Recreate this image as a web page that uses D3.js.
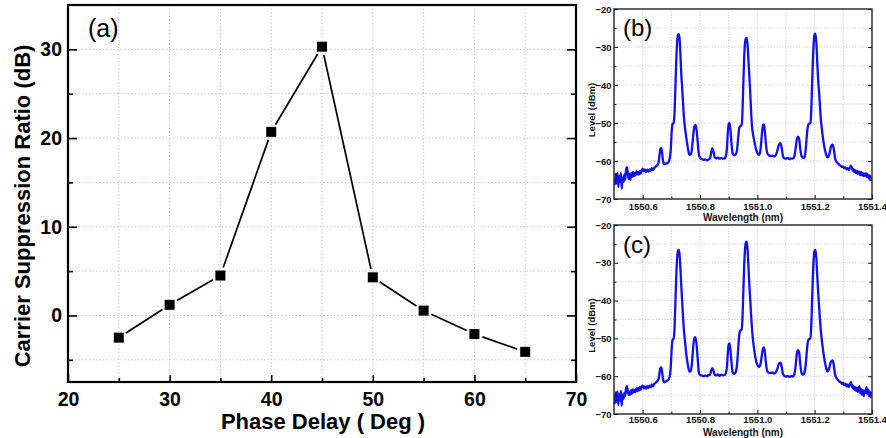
<!DOCTYPE html>
<html><head><meta charset="utf-8">
<script src="https://cdn.jsdelivr.net/npm/d3@7"></script>
<style>body{margin:0;background:#fff}svg{display:block}text{font-family:"Liberation Sans",Arial,sans-serif}</style>
</head><body><svg id="c" width="886" height="438"></svg>
<script>
// ---------- data ----------
const phaseDelay = [25, 30, 35, 40, 45, 50, 55, 60, 65];
const csr = [-2.5, 1.2, 4.5, 20.7, 30.3, 4.3, 0.55, -2.1, -4.1];
const xTicksA = [20, 30, 40, 50, 60, 70];
const yTicksA = [0, 10, 20, 30];
const wlTicks = [1550.6, 1550.8, 1551.0, 1551.2, 1551.4];
const levelTicks = [-20, -30, -40, -50, -60, -70];

const specB = [
[1550.500,-64.6],[1550.503,-66.2],[1550.506,-63.4],[1550.509,-65.9],[1550.512,-63.1],[1550.515,-66.8],[1550.518,-64.0],[1550.521,-65.4],[1550.524,-63.2],[1550.527,-67.3],[1550.530,-64.3],[1550.533,-65.6],[1550.536,-63.6],[1550.539,-64.9],[1550.542,-62.4],[1550.545,-61.6],[1550.548,-63.1],[1550.551,-64.7],[1550.554,-63.3],[1550.557,-65.0],[1550.560,-63.1],[1550.563,-64.2],[1550.566,-62.9],[1550.569,-64.0],[1550.572,-63.1],[1550.575,-63.8],[1550.578,-62.7],[1550.581,-63.5],[1550.584,-62.9],[1550.587,-63.6],[1550.590,-62.6],[1550.593,-63.3],[1550.596,-62.5],[1550.600,-62.0],[1550.604,-62.7],[1550.608,-62.3],[1550.612,-62.9],[1550.616,-62.3],[1550.620,-62.8],[1550.624,-62.2],[1550.628,-62.6],[1550.632,-61.9],[1550.636,-62.4],[1550.640,-61.9],[1550.644,-61.6],[1550.648,-61.3],[1550.652,-61.0],[1550.656,-60.2],[1550.659,-58.3],[1550.662,-56.8],[1550.665,-56.6],[1550.668,-58.0],[1550.671,-60.0],[1550.675,-60.8],[1550.680,-60.7],[1550.685,-60.6],[1550.690,-60.3],[1550.694,-59.5],[1550.698,-57.0],[1550.701,-52.5],[1550.704,-50.3],[1550.708,-50.0],[1550.711,-47.5],[1550.714,-41.0],[1550.717,-34.0],[1550.720,-29.0],[1550.723,-26.8],[1550.726,-26.6],[1550.729,-28.0],[1550.732,-32.5],[1550.735,-37.5],[1550.738,-41.0],[1550.741,-45.0],[1550.744,-48.5],[1550.748,-51.5],[1550.752,-53.8],[1550.756,-55.8],[1550.760,-57.6],[1550.764,-58.4],[1550.768,-58.2],[1550.772,-56.8],[1550.776,-53.5],[1550.780,-51.0],[1550.784,-50.5],[1550.788,-51.8],[1550.792,-55.0],[1550.796,-58.2],[1550.800,-59.2],[1550.806,-59.5],[1550.812,-59.7],[1550.818,-59.6],[1550.824,-59.8],[1550.830,-59.6],[1550.835,-59.3],[1550.839,-57.8],[1550.843,-56.6],[1550.847,-57.5],[1550.851,-59.0],[1550.856,-59.3],[1550.862,-59.1],[1550.868,-59.4],[1550.874,-59.2],[1550.880,-59.4],[1550.886,-59.3],[1550.890,-58.8],[1550.894,-56.5],[1550.897,-52.5],[1550.900,-50.3],[1550.903,-50.0],[1550.906,-51.5],[1550.910,-55.5],[1550.914,-58.0],[1550.919,-58.5],[1550.924,-58.3],[1550.929,-57.2],[1550.933,-54.0],[1550.937,-51.3],[1550.941,-50.8],[1550.945,-50.6],[1550.948,-47.5],[1550.951,-40.0],[1550.954,-33.0],[1550.957,-29.0],[1550.960,-27.7],[1550.963,-27.6],[1550.966,-29.5],[1550.969,-33.5],[1550.972,-37.5],[1550.975,-41.5],[1550.978,-46.5],[1550.981,-50.5],[1550.985,-53.0],[1550.990,-55.0],[1550.995,-56.8],[1551.000,-57.8],[1551.005,-58.4],[1551.009,-58.0],[1551.013,-55.5],[1551.017,-52.0],[1551.020,-50.5],[1551.023,-50.4],[1551.026,-52.0],[1551.030,-55.5],[1551.034,-57.8],[1551.040,-58.5],[1551.046,-58.7],[1551.052,-58.6],[1551.058,-58.8],[1551.064,-58.5],[1551.069,-57.5],[1551.074,-56.0],[1551.078,-55.4],[1551.081,-55.3],[1551.085,-56.5],[1551.089,-58.6],[1551.094,-59.3],[1551.100,-59.4],[1551.106,-59.2],[1551.112,-59.5],[1551.118,-59.3],[1551.124,-59.4],[1551.129,-58.8],[1551.134,-56.5],[1551.138,-54.2],[1551.142,-53.6],[1551.146,-54.3],[1551.150,-57.0],[1551.155,-58.8],[1551.160,-59.2],[1551.164,-59.0],[1551.168,-57.5],[1551.172,-54.0],[1551.176,-51.0],[1551.180,-50.2],[1551.185,-50.0],[1551.188,-47.0],[1551.191,-40.0],[1551.194,-33.0],[1551.197,-28.5],[1551.200,-26.6],[1551.203,-26.5],[1551.206,-29.0],[1551.209,-34.0],[1551.212,-38.5],[1551.215,-41.5],[1551.218,-45.0],[1551.221,-48.5],[1551.225,-51.5],[1551.230,-54.5],[1551.235,-56.8],[1551.240,-58.3],[1551.244,-59.0],[1551.248,-58.8],[1551.252,-58.0],[1551.256,-56.5],[1551.260,-55.7],[1551.263,-55.7],[1551.267,-57.0],[1551.271,-59.2],[1551.276,-60.2],[1551.281,-60.6],[1551.286,-61.0],[1551.291,-61.3],[1551.295,-61.6],[1551.299,-61.4],[1551.303,-61.9],[1551.307,-61.7],[1551.311,-62.2],[1551.315,-61.9],[1551.319,-62.4],[1551.323,-61.8],[1551.326,-61.2],[1551.329,-61.6],[1551.332,-62.5],[1551.335,-62.1],[1551.338,-62.9],[1551.341,-62.4],[1551.344,-63.2],[1551.347,-62.6],[1551.350,-63.4],[1551.353,-62.8],[1551.356,-63.0],[1551.359,-63.7],[1551.362,-62.9],[1551.365,-63.8],[1551.368,-63.1],[1551.371,-64.0],[1551.374,-63.3],[1551.377,-63.9],[1551.380,-63.2],[1551.383,-64.3],[1551.386,-63.5],[1551.389,-64.6],[1551.392,-63.8],[1551.395,-65.0],[1551.398,-64.4],[1551.400,-64.9]
];

const specC = [
[1550.500,-65.5],[1550.503,-67.2],[1550.506,-64.3],[1550.509,-66.8],[1550.512,-64.0],[1550.515,-67.6],[1550.518,-64.8],[1550.521,-66.4],[1550.524,-63.9],[1550.527,-67.8],[1550.530,-64.9],[1550.533,-66.0],[1550.536,-64.4],[1550.539,-65.2],[1550.542,-63.3],[1550.545,-62.6],[1550.548,-63.8],[1550.551,-65.0],[1550.554,-64.0],[1550.557,-64.9],[1550.560,-63.7],[1550.563,-64.6],[1550.566,-63.5],[1550.569,-64.3],[1550.572,-63.6],[1550.575,-64.2],[1550.578,-63.2],[1550.581,-64.0],[1550.584,-63.1],[1550.587,-63.8],[1550.590,-62.8],[1550.593,-63.6],[1550.596,-62.9],[1550.600,-62.5],[1550.604,-63.2],[1550.608,-62.7],[1550.612,-63.3],[1550.616,-62.6],[1550.620,-63.1],[1550.624,-62.5],[1550.628,-62.9],[1550.632,-62.2],[1550.636,-62.7],[1550.640,-62.1],[1550.644,-61.8],[1550.648,-61.5],[1550.652,-61.2],[1550.656,-60.6],[1550.659,-59.0],[1550.662,-57.8],[1550.665,-57.7],[1550.668,-59.0],[1550.671,-60.8],[1550.675,-61.6],[1550.680,-61.4],[1550.685,-61.2],[1550.690,-60.9],[1550.694,-60.2],[1550.698,-57.5],[1550.701,-53.0],[1550.704,-50.4],[1550.708,-50.1],[1550.711,-47.5],[1550.714,-41.0],[1550.717,-34.0],[1550.720,-29.0],[1550.723,-26.8],[1550.726,-26.6],[1550.729,-28.0],[1550.732,-32.0],[1550.735,-36.5],[1550.738,-40.5],[1550.741,-44.5],[1550.744,-48.0],[1550.748,-51.0],[1550.752,-54.0],[1550.756,-56.2],[1550.760,-58.0],[1550.764,-58.8],[1550.768,-58.6],[1550.772,-56.5],[1550.776,-52.5],[1550.780,-50.0],[1550.784,-49.7],[1550.788,-51.5],[1550.792,-55.5],[1550.796,-59.0],[1550.800,-59.7],[1550.806,-59.8],[1550.812,-60.0],[1550.818,-59.8],[1550.824,-60.0],[1550.830,-59.7],[1550.835,-59.6],[1550.839,-58.5],[1550.843,-57.9],[1550.847,-58.5],[1550.851,-59.6],[1550.856,-59.8],[1550.862,-59.5],[1550.868,-59.9],[1550.874,-59.6],[1550.880,-59.8],[1550.886,-59.7],[1550.890,-59.2],[1550.894,-57.5],[1550.897,-54.0],[1550.900,-51.6],[1550.903,-51.3],[1550.906,-52.8],[1550.910,-56.5],[1550.914,-59.0],[1550.919,-59.4],[1550.924,-59.0],[1550.929,-57.0],[1550.933,-53.0],[1550.937,-49.0],[1550.941,-47.9],[1550.945,-47.7],[1550.948,-45.0],[1550.951,-38.0],[1550.954,-31.0],[1550.957,-26.5],[1550.960,-24.6],[1550.963,-24.4],[1550.966,-26.5],[1550.969,-31.0],[1550.972,-35.5],[1550.975,-39.5],[1550.978,-43.5],[1550.981,-47.0],[1550.985,-50.5],[1550.990,-53.5],[1550.995,-55.8],[1551.000,-57.0],[1551.005,-57.6],[1551.009,-57.3],[1551.013,-56.0],[1551.017,-53.8],[1551.020,-52.6],[1551.023,-52.4],[1551.026,-53.5],[1551.030,-56.5],[1551.034,-58.5],[1551.040,-59.1],[1551.046,-59.2],[1551.052,-59.0],[1551.058,-59.3],[1551.064,-59.0],[1551.069,-58.3],[1551.074,-57.0],[1551.078,-56.5],[1551.081,-56.4],[1551.085,-57.5],[1551.089,-59.3],[1551.094,-59.9],[1551.100,-60.1],[1551.106,-59.9],[1551.112,-60.2],[1551.118,-60.0],[1551.124,-60.1],[1551.129,-59.5],[1551.134,-57.0],[1551.138,-54.0],[1551.142,-53.1],[1551.146,-53.8],[1551.150,-57.0],[1551.155,-59.3],[1551.160,-59.6],[1551.164,-59.2],[1551.168,-57.5],[1551.172,-54.0],[1551.176,-51.0],[1551.180,-50.2],[1551.185,-50.0],[1551.188,-47.0],[1551.191,-40.0],[1551.194,-33.0],[1551.197,-28.5],[1551.200,-26.7],[1551.203,-26.6],[1551.206,-29.0],[1551.209,-33.5],[1551.212,-37.5],[1551.215,-41.0],[1551.218,-44.5],[1551.221,-47.5],[1551.225,-50.5],[1551.230,-53.5],[1551.235,-56.0],[1551.240,-57.8],[1551.244,-58.8],[1551.248,-58.5],[1551.252,-57.5],[1551.256,-56.3],[1551.260,-55.9],[1551.263,-55.8],[1551.267,-57.3],[1551.271,-59.5],[1551.276,-60.5],[1551.281,-61.0],[1551.286,-61.4],[1551.291,-61.6],[1551.295,-62.0],[1551.299,-61.7],[1551.303,-62.3],[1551.307,-62.0],[1551.311,-62.7],[1551.315,-62.2],[1551.319,-62.9],[1551.323,-62.1],[1551.326,-61.6],[1551.329,-62.2],[1551.332,-63.1],[1551.335,-62.5],[1551.338,-63.6],[1551.341,-62.9],[1551.344,-63.9],[1551.347,-63.0],[1551.350,-64.2],[1551.353,-63.2],[1551.356,-62.6],[1551.359,-64.5],[1551.362,-63.4],[1551.365,-64.9],[1551.368,-63.6],[1551.371,-65.3],[1551.374,-63.8],[1551.377,-64.4],[1551.380,-62.9],[1551.383,-64.6],[1551.386,-63.5],[1551.389,-65.2],[1551.392,-64.0],[1551.395,-65.6],[1551.398,-64.5],[1551.400,-65.3]
];

// ---------- drawing ----------
const svg = d3.select('#c');
const GRID = '#c6c6c6';

// ===== Panel (a) =====
const A = {l: 68, r: 576, t: 5, b: 382};
const xa = d3.scaleLinear().domain([20, 70]).range([A.l, A.r]);
const ya = d3.scaleLinear().domain([-7.5, 35]).range([A.b, A.t]);
const ga = svg.append('g');

const gridXA = d3.range(25, 70, 5);
const gridYA = d3.range(-5, 35, 5);
ga.append('g').selectAll('line').data(gridXA).join('line')
  .attr('x1', d => xa(d)).attr('x2', d => xa(d)).attr('y1', A.t).attr('y2', A.b)
  .attr('stroke', GRID).attr('stroke-width', 1).attr('stroke-dasharray', '1.5,2');
ga.append('g').selectAll('line').data(gridYA).join('line')
  .attr('y1', d => ya(d)).attr('y2', d => ya(d)).attr('x1', A.l).attr('x2', A.r)
  .attr('stroke', GRID).attr('stroke-width', 1).attr('stroke-dasharray', '1.5,2');

const axB = ga.append('g').attr('transform', `translate(0,${A.b})`)
  .call(d3.axisBottom(xa).tickValues(xTicksA).tickSizeInner(-7).tickSizeOuter(0).tickPadding(10));
const axL = ga.append('g').attr('transform', `translate(${A.l},0)`)
  .call(d3.axisLeft(ya).tickValues(yTicksA).tickSizeInner(-9).tickSizeOuter(0).tickPadding(6));
const axR = ga.append('g').attr('transform', `translate(${A.r},0)`)
  .call(d3.axisRight(ya).tickValues(yTicksA).tickSizeInner(-9).tickSizeOuter(0).tickFormat(''));
const axLm = ga.append('g').attr('transform', `translate(${A.l},0)`)
  .call(d3.axisLeft(ya).tickValues([-5, 5, 15, 25]).tickSizeInner(-5).tickSizeOuter(0).tickFormat(''));
const axRm = ga.append('g').attr('transform', `translate(${A.r},0)`)
  .call(d3.axisRight(ya).tickValues([-5, 5, 15, 25]).tickSizeInner(-5).tickSizeOuter(0).tickFormat(''));
const axBm = ga.append('g').attr('transform', `translate(0,${A.b})`)
  .call(d3.axisBottom(xa).tickValues(gridXA.filter(d => d % 10 !== 0)).tickSizeInner(-4).tickSizeOuter(0).tickFormat(''));
[axB, axL, axR, axLm, axRm, axBm].forEach(g => {
  g.select('.domain').remove();
  g.selectAll('line').attr('stroke', '#000').attr('stroke-width', 1.6);
  g.selectAll('text').attr('font-size', 19.5).attr('font-weight', 'bold').attr('fill', '#000')
    .attr('font-family', '"Liberation Sans",Arial,sans-serif');
});

const pts = phaseDelay.map((p, i) => [xa(p), ya(csr[i])]);
const GAP = 8.5;
const segs = d3.pairs(pts).map(([p, q]) => {
  const dx = q[0] - p[0], dy = q[1] - p[1], L = Math.hypot(dx, dy);
  const ux = dx / L, uy = dy / L;
  return [[p[0] + ux * GAP, p[1] + uy * GAP], [q[0] - ux * GAP, q[1] - uy * GAP]];
});
ga.append('g').selectAll('line').data(segs).join('line')
  .attr('x1', d => d[0][0]).attr('y1', d => d[0][1]).attr('x2', d => d[1][0]).attr('y2', d => d[1][1])
  .attr('stroke', '#000').attr('stroke-width', 1.7);
const MS = 10;
ga.append('g').selectAll('rect').data(phaseDelay).join('rect')
  .attr('x', (d) => xa(d) - MS / 2).attr('y', (d, i) => ya(csr[i]) - MS / 2)
  .attr('width', MS).attr('height', MS).attr('fill', '#000');

ga.append('rect').attr('x', A.l).attr('y', A.t).attr('width', A.r - A.l).attr('height', A.b - A.t)
  .attr('fill', 'none').attr('stroke', '#000').attr('stroke-width', 2.2);

ga.append('text').attr('x', 88).attr('y', 37).attr('font-size', 25).text('(a)');
ga.append('text').attr('transform', `translate(30,206) rotate(-90)`)
  .attr('text-anchor', 'middle').attr('font-size', 22).attr('font-weight', 'bold')
  .text('Carrier Suppression Ratio (dB)');
ga.append('text').attr('x', 323).attr('y', 429).attr('text-anchor', 'middle')
  .attr('font-size', 22).attr('font-weight', 'bold').text('Phase Delay ( Deg )');

// ===== Panels (b), (c) =====
function spectrum(P, data, tag, tagY, labPad, titleY) {
  const g = svg.append('g');
  const xs = d3.scaleLinear().domain([1550.5, 1551.4]).range([P.l, P.r]);
  const ys = d3.scaleLinear().domain([-70, -20]).range([P.b, P.t]);
  const gx = d3.range(1550.6, 1551.35, 0.1);
  const gy = d3.range(-65, -20, 5);
  g.append('g').selectAll('line').data(gx).join('line')
    .attr('x1', d => xs(d)).attr('x2', d => xs(d)).attr('y1', P.t).attr('y2', P.b)
    .attr('stroke', GRID).attr('stroke-width', 0.9).attr('stroke-dasharray', '1.2,1.6');
  g.append('g').selectAll('line').data(gy).join('line')
    .attr('y1', d => ys(d)).attr('y2', d => ys(d)).attr('x1', P.l).attr('x2', P.r)
    .attr('stroke', GRID).attr('stroke-width', 0.9).attr('stroke-dasharray', '1.2,1.6');

  const clipId = 'clip' + tag.replace(/\W/g, '');
  g.append('clipPath').attr('id', clipId).append('rect')
    .attr('x', P.l).attr('y', P.t).attr('width', P.r - P.l).attr('height', P.b - P.t);
  g.append('path').datum(data).attr('clip-path', `url(#${clipId})`)
    .attr('d', d3.line().x(d => xs(d[0])).y(d => ys(d[1])).curve(d3.curveMonotoneX))
    .attr('fill', 'none').attr('stroke', '#1010f0').attr('stroke-width', 2.3)
    .attr('stroke-linejoin', 'round');

  const axes = [];
  axes.push(g.append('g').attr('transform', `translate(0,${P.b})`)
    .call(d3.axisBottom(xs).tickValues(wlTicks).tickSizeInner(-4).tickSizeOuter(0).tickPadding(labPad).tickFormat(d3.format('.1f'))));
  axes.push(g.append('g').attr('transform', `translate(0,${P.b})`)
    .call(d3.axisBottom(xs).tickValues(d3.range(1550.7, 1551.35, 0.2)).tickSizeInner(-2.5).tickSizeOuter(0).tickFormat('')));
  axes.push(g.append('g').attr('transform', `translate(${P.l},0)`)
    .call(d3.axisLeft(ys).tickValues(levelTicks).tickSizeInner(-4).tickSizeOuter(0).tickPadding(2.5)));
  axes.push(g.append('g').attr('transform', `translate(${P.l},0)`)
    .call(d3.axisLeft(ys).tickValues(d3.range(-65, -20, 10)).tickSizeInner(-2.5).tickSizeOuter(0).tickFormat('')));
  axes.push(g.append('g').attr('transform', `translate(${P.r},0)`)
    .call(d3.axisRight(ys).tickValues(levelTicks).tickSizeInner(-4).tickSizeOuter(0).tickFormat('')));
  axes.push(g.append('g').attr('transform', `translate(${P.r},0)`)
    .call(d3.axisRight(ys).tickValues(d3.range(-65, -20, 10)).tickSizeInner(-2.5).tickSizeOuter(0).tickFormat('')));
  axes.forEach(a => {
    a.select('.domain').remove();
    a.selectAll('line').attr('stroke', '#222').attr('stroke-width', 1.1);
    a.selectAll('text').attr('font-size', 9.5).attr('font-weight', 'bold').attr('fill', '#111')
      .attr('font-family', '"Liberation Sans",Arial,sans-serif');
  });

  g.append('rect').attr('x', P.l).attr('y', P.t).attr('width', P.r - P.l).attr('height', P.b - P.t)
    .attr('fill', 'none').attr('stroke', '#222').attr('stroke-width', 1.4);

  g.append('text').attr('x', 623).attr('y', tagY).attr('font-size', 24).text(tag);
  g.append('text').attr('transform', `translate(595,${(P.t + P.b) / 2 + 6}) rotate(-90)`)
    .attr('text-anchor', 'middle').attr('font-size', 9.5).attr('font-weight', 'bold').attr('fill', '#111')
    .text('Level (dBm)');
  g.append('text').attr('x', 743).attr('y', titleY).attr('text-anchor', 'middle')
    .attr('font-size', 10).attr('font-weight', 'bold').attr('fill', '#111').text('Wavelength (nm)');
}

spectrum({l: 614, r: 872, t: 9, b: 199}, specB, '(b)', 36, 4.5, 221);
spectrum({l: 614, r: 872, t: 225, b: 414}, specC, '(c)', 253, 2.5, 436);
</script></body></html>
